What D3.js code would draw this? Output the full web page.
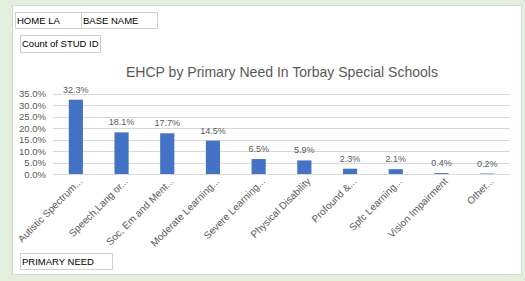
<!DOCTYPE html>
<html>
<head>
<meta charset="utf-8">
<script src="https://cdn.jsdelivr.net/npm/d3@7"></script>
<style>
  body { margin: 0; background: #e4eedc; }
  svg { display: block; font-family: "Liberation Sans", Arial, sans-serif; }
</style>
</head>
<body>
<svg id="chart" width="525" height="281"></svg>
<script>
// data
var needs = ['Autistic Spectrum...', 'Speech,Lang or...', 'Soc, Em and Ment...',
    'Moderate Learning...', 'Severe Learning...', 'Physical Disability',
    'Profound &...', 'Spfc Learning...', 'Vision Impairment', 'Other...'];
var shares = [0.323, 0.181, 0.177, 0.145, 0.065, 0.059, 0.023, 0.021, 0.004, 0.002];
var yTicks = [0, 0.05, 0.10, 0.15, 0.20, 0.25, 0.30, 0.35];

var svg = d3.select('#chart');
var grey = '#595959';

// white sheet panel
svg.append('rect')
    .attr('x', 12.5).attr('y', 5.5)
    .attr('width', 509).attr('height', 269)
    .attr('fill', '#fff')
    .attr('stroke', '#d6d6d6');

// pivot field buttons
function fieldBox(x, y, w, h, label) {
    svg.append('rect')
        .attr('x', x + 0.5).attr('y', y + 0.5)
        .attr('width', w).attr('height', h)
        .attr('fill', '#fff')
        .attr('stroke', '#d0d0d0');
    svg.append('text')
        .attr('x', x + 2).attr('y', y + h / 2 + 3.5)
        .style('font-size', '9.5px')
        .style('fill', '#000')
        .text(label);
}
fieldBox(15, 12, 66, 16, 'HOME LA');
fieldBox(81, 12, 76, 16, 'BASE NAME');
fieldBox(20, 35, 80, 17, 'Count of STUD ID');
fieldBox(20, 253, 92, 16, 'PRIMARY NEED');

// title
svg.append('text')
    .attr('x', 282).attr('y', 77)
    .attr('text-anchor', 'middle')
    .style('font-size', '14.5px')
    .style('fill', grey)
    .attr('textLength', 312)
    .attr('lengthAdjust', 'spacingAndGlyphs')
    .text('EHCP by Primary Need In Torbay Special Schools');

var x = d3.scaleBand()
    .domain(needs)
    .range([53, 510])
    .paddingInner(0.69)
    .paddingOuter(0.345);

var y = d3.scaleLinear()
    .domain([0, 0.35])
    .range([174, 93.5]);

// gridlines
svg.selectAll('.grid')
    .data(yTicks)
    .enter()
    .append('line')
    .attr('class', 'grid')
    .attr('x1', 53).attr('x2', 510)
    .attr('y1', function (d) { return Math.round(y(d)) + 0.5; })
    .attr('y2', function (d) { return Math.round(y(d)) + 0.5; })
    .attr('stroke', '#d9d9d9')
    .attr('stroke-width', 1);

// y axis labels
var yAxis = d3.axisLeft(y)
    .tickValues(yTicks)
    .tickFormat(d3.format('.1%'))
    .tickSize(0)
    .tickPadding(0);

var yG = svg.append('g')
    .attr('transform', 'translate(46,0)')
    .call(yAxis);
yG.select('.domain').remove();
yG.selectAll('text')
    .style('font-size', '9.5px')
    .style('fill', grey)
    .style('font-family', '"Liberation Sans", Arial, sans-serif');

// bars
svg.selectAll('.bar')
    .data(shares)
    .enter()
    .append('rect')
    .attr('class', 'bar')
    .attr('x', function (d, i) { return x(needs[i]); })
    .attr('width', x.bandwidth())
    .attr('y', function (d) { return y(d); })
    .attr('height', function (d) { return y(0) - y(d); })
    .attr('fill', '#4472c4');

// value labels
svg.selectAll('.val')
    .data(shares)
    .enter()
    .append('text')
    .attr('class', 'val')
    .attr('x', function (d, i) { return x(needs[i]) + x.bandwidth() / 2; })
    .attr('y', function (d) { return y(d) - 7; })
    .attr('text-anchor', 'middle')
    .style('font-size', '9px')
    .style('fill', grey)
    .text(function (d) { return d3.format('.1%')(d); });

// x axis line
svg.append('line')
    .attr('x1', 53).attr('x2', 510)
    .attr('y1', Math.round(y(0)) + 0.5).attr('y2', Math.round(y(0)) + 0.5)
    .attr('stroke', '#d9d9d9');

// rotated category labels
svg.selectAll('.cat')
    .data(needs)
    .enter()
    .append('text')
    .attr('class', 'cat')
    .attr('text-anchor', 'end')
    .attr('transform', function (d) {
        return 'translate(' + (x(d) + x.bandwidth() / 2 + 7) + ',' + 182 + ')rotate(-45)';
    })
    .style('font-size', '10px')
    .style('fill', grey)
    .text(function (d) { return d; });
</script>
</body>
</html>
